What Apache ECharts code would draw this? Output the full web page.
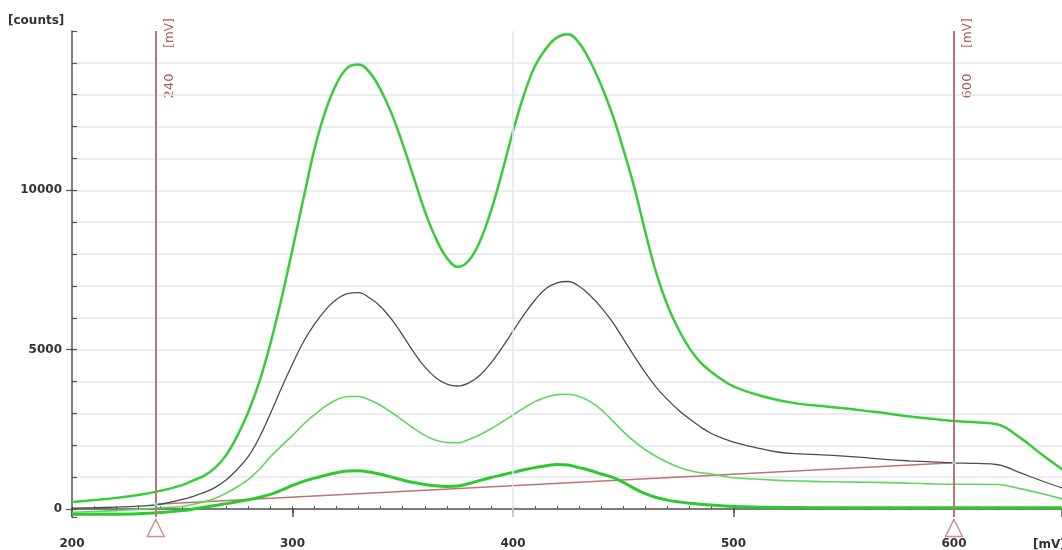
<!DOCTYPE html>
<html><head><meta charset="utf-8">
<script src="https://cdn.jsdelivr.net/npm/echarts@6/dist/echarts.min.js"></script>
<style>html,body{margin:0;padding:0;background:#fff}#c{width:1062px;height:550px}</style>
</head><body><div id="c"></div>
<script>
// x positions in mV
const voltages = [200,210,220,230,240,250,255,260,265,270,275,280,285,290,295,300,305,310,315,320,325,330,335,340,345,350,355,360,365,370,375,380,385,390,395,400,405,410,415,420,425,430,435,440,445,450,455,460,465,470,475,480,485,490,495,500,510,520,530,540,550,560,570,580,590,600,610,620,630,640,650];
// counts
const curveTop = [220,280,350,440,570,750,900,1050,1300,1700,2300,3050,4000,5200,6600,8150,9750,11300,12500,13350,13850,13950,13700,13150,12400,11450,10400,9350,8500,7880,7600,7800,8400,9350,10550,11850,13000,13900,14450,14800,14900,14620,14050,13300,12400,11300,10100,8700,7400,6400,5650,5050,4600,4300,4050,3850,3600,3420,3300,3230,3160,3080,3000,2900,2830,2760,2720,2650,2240,1700,1200];
const curveBlack = [30,40,60,90,150,300,400,520,680,920,1250,1650,2250,3000,3800,4550,5250,5800,6250,6580,6760,6790,6620,6350,5950,5450,4920,4460,4120,3920,3860,3960,4200,4580,5060,5580,6100,6560,6920,7100,7140,6990,6700,6330,5880,5350,4800,4280,3820,3440,3110,2830,2580,2370,2220,2100,1930,1790,1730,1700,1660,1610,1550,1510,1480,1450,1430,1390,1140,880,640];
const curveMid = [-100,-80,-50,-10,40,80,150,230,340,500,700,930,1250,1640,1980,2310,2660,2960,3230,3430,3530,3530,3420,3250,3030,2780,2530,2310,2160,2090,2080,2180,2330,2520,2730,2950,3170,3370,3510,3590,3600,3530,3370,3120,2780,2430,2120,1860,1650,1470,1320,1210,1140,1100,1040,980,940,900,880,860,850,840,830,810,790,780,780,770,640,480,300];
const curveLow = [-160,-160,-160,-150,-110,-50,0,60,110,170,230,290,370,460,590,740,870,970,1060,1140,1190,1200,1160,1090,1000,910,830,770,730,710,720,800,900,990,1070,1150,1230,1300,1360,1400,1380,1300,1210,1100,1000,840,650,480,360,280,225,180,150,125,100,80,60,50,45,40,40,40,40,40,40,40,40,40,40,40,40];
// baseline between the two markers
const baselineX = [238, 600];
const baselineY = [150, 1450];
// marker positions (mV) and their printed labels
const markerPos = [238, 600];
const markerLabels = ['240', '600'];
const markerUnit = '[mV]';
const yTicks = [0, 5000, 10000];
const xTicks = [200, 300, 400, 500, 600];

const pair = (xs, ys) => xs.map((x, i) => [x, ys[i]]);
const FONT = '"DejaVu Sans", Verdana, sans-serif';
const axisColor = '#555';
const gridColor = '#e6e6ef';
const markerColor = '#c07474';

const chart = echarts.init(document.getElementById('c'), null, {renderer: 'canvas'});

const lineSeries = (name, data, color, width) => ({
  name, type: 'line', data, showSymbol: false, symbol: 'none', smooth: 0.4,
  lineStyle: {color, width}, itemStyle: {color}, animation: false, z: 3
});

const option = {
  animation: false,
  backgroundColor: '#fff',
  grid: {left: 72, right: 0, top: 31, bottom: 31},
  xAxis: [
    {type: 'value', min: 200, max: 649, interval: 100, position: 'bottom',
     axisLine: {show: true, lineStyle: {color: axisColor, width: 1.5}},
     axisTick: {show: true, length: 4, lineStyle: {color: axisColor, width: 1.5}},
     axisLabel: {show: true, margin: 21, fontFamily: FONT, fontWeight: 'bold', fontSize: 12, color: '#333',
       showMaxLabel: false, formatter: v => xTicks.includes(v) ? String(v) : ''},
     splitLine: {show: false}},
    {type: 'value', min: 200, max: 649, interval: 10, position: 'bottom',
     axisLine: {show: false}, axisLabel: {show: false}, splitLine: {show: false},
     axisTick: {show: true, inside: true, interval: 0, length: 3, lineStyle: {color: axisColor, width: 1}}},
    {type: 'value', min: 200, max: 649, interval: 100, position: 'bottom',
     axisLine: {show: false}, axisLabel: {show: false}, splitLine: {show: false},
     axisTick: {show: true, inside: true, length: 9, lineStyle: {color: axisColor, width: 1.5}}}
  ],
  yAxis: [
    {type: 'value', min: -250, max: 15000, splitNumber: 3, minInterval: 5000, maxInterval: 5000, position: 'left',
     axisLine: {show: true, lineStyle: {color: axisColor, width: 1.5}},
     axisTick: {show: true, length: 6, lineStyle: {color: axisColor, width: 1.2}},
     axisLabel: {show: true, margin: 10, fontFamily: FONT, fontWeight: 'bold', fontSize: 12, color: '#333',
       showMinLabel: false, showMaxLabel: false, formatter: v => yTicks.includes(v) ? String(v) : ''},
     splitLine: {show: false}},
    {type: 'value', min: -250, max: 15000, splitNumber: 15, minInterval: 1000, maxInterval: 1000, position: 'left',
     axisLine: {show: false}, axisLabel: {show: false},
     axisTick: {show: true, inside: true, length: 5, lineStyle: {color: axisColor, width: 1.2}},
     splitLine: {show: true, showMaxLine: false, showMinLine: false, lineStyle: {color: gridColor, width: 1.5}}}
  ],
  series: [
    {name: 'grid', type: 'line', data: [], z: 1,
     markLine: {silent: true, symbol: 'none', label: {show: false}, animation: false,
       lineStyle: {color: gridColor, width: 1.5, type: 'solid'}, data: [{xAxis: 400}]}},
    {name: 'baseline', type: 'line', data: pair(baselineX, baselineY), showSymbol: false, symbol: 'none',
     lineStyle: {color: '#c07373', width: 1.5}, z: 2, animation: false},
    lineSeries('low', pair(voltages, curveLow), '#2fc82f', 3),
    lineSeries('mid', pair(voltages, curveMid), '#5fd65f', 1.6),
    lineSeries('black', pair(voltages, curveBlack), '#4d4d4d', 1.3),
    lineSeries('top', pair(voltages, curveTop), '#38cd38', 2.5),
    {name: 'markers', type: 'scatter', data: markerPos.map(m => [m, -250]), clip: false,
     symbol: 'triangle', symbolSize: [17, 17], symbolOffset: [0, 11],
     itemStyle: {color: '#fff', borderColor: markerColor, borderWidth: 1.5}, z: 5,
     markLine: {silent: true, symbol: 'none', label: {show: false}, animation: false,
       lineStyle: {color: markerColor, width: 2, type: 'solid'}, data: markerPos.map(m => ({xAxis: m}))}},
    {name: 'ends', type: 'scatter', data: pair(baselineX, baselineY), symbol: 'rect', symbolSize: [4, 3],
     itemStyle: {color: '#8fe3ee'}, z: 6}
  ],
  graphic: [
    {type: 'text', left: 8, top: 15, style: {text: '[counts]', font: 'bold 12px ' + FONT, fill: '#333'}},
    {type: 'text', left: 1033, top: 539, style: {text: '[mV]', font: 'bold 12px ' + FONT, fill: '#333'}}
  ]
};
chart.setOption(option);

// rotated marker labels positioned through the x axis scale
const labels = [];
markerPos.forEach((m, i) => {
  const px = chart.convertToPixel({xAxisIndex: 0}, m);
  labels.push({type: 'text', x: px + 14, y: 86, rotation: Math.PI / 2,
    style: {text: markerLabels[i], font: '13px ' + FONT, fill: '#b35c5c', align: 'center', verticalAlign: 'middle'}});
  labels.push({type: 'text', x: px + 14, y: 33, rotation: Math.PI / 2,
    style: {text: markerUnit, font: '12px ' + FONT, fill: '#b35c5c', align: 'center', verticalAlign: 'middle'}});
});
chart.setOption({graphic: option.graphic.concat(labels)});
</script>
</body></html>
